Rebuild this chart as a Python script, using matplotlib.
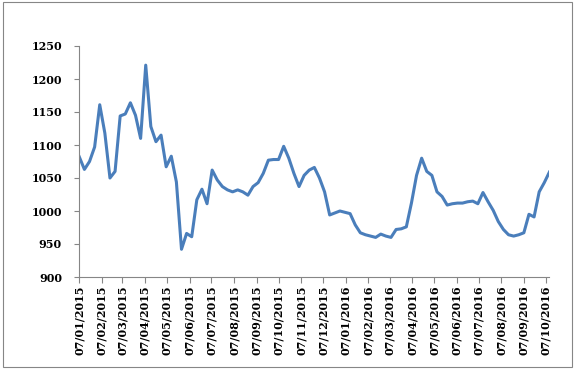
import matplotlib
matplotlib.use("Agg")
import matplotlib.pyplot as plt
import matplotlib.dates as mdates
from matplotlib.patches import Rectangle
import pandas as pd

start_date = "2015-01-07"
values = [1082, 1063, 1075, 1097, 1161, 1118, 1050, 1060, 1144, 1147, 1164, 1145, 1110, 1221, 1128,
          1105, 1115, 1067, 1083, 1044, 942, 966, 961, 1017, 1033, 1011, 1062, 1047, 1037, 1032,
          1029, 1032, 1029, 1024, 1037, 1043, 1057, 1077, 1078, 1078, 1098, 1080, 1057, 1037,
          1054, 1062, 1066, 1050, 1029, 994, 997, 1000, 998, 996, 979, 967, 964, 962, 960,
          965, 962, 960, 972, 973, 976, 1012, 1054, 1080, 1060, 1054, 1029, 1022, 1009,
          1011, 1012, 1012, 1014, 1015, 1011, 1028, 1014, 1001, 984, 972, 964, 962, 964, 967,
          995, 991, 1029, 1043, 1059]
dates = pd.date_range(start_date, periods=len(values), freq="7D")
y_ticks = [900, 950, 1000, 1050, 1100, 1150, 1200, 1250]

W, H = 574, 376
fig = plt.figure(figsize=(W / 100, H / 100), dpi=100)
ax = fig.add_axes([79.3 / W, 1 - 277 / H, (549.4 - 79.3) / W, (277 - 46) / H])

ax.plot(dates, values, color="#4A7EBB", linewidth=2.2, solid_joinstyle="round")

ax.set_xlim(dates[0], dates[-1])
ax.set_ylim(900, 1250)
ax.set_yticks(y_ticks)
ax.xaxis.set_major_locator(mdates.MonthLocator(bymonthday=7))
ax.xaxis.set_major_formatter(mdates.DateFormatter("%d/%m/%Y"))

font = dict(family="DejaVu Serif", weight="bold", size=8)
for lab in ax.get_yticklabels():
    lab.set_fontproperties(matplotlib.font_manager.FontProperties(**font))
for lab in ax.get_xticklabels():
    lab.set_fontproperties(matplotlib.font_manager.FontProperties(**font))
    lab.set_rotation(90)

for s in ["top", "right"]:
    ax.spines[s].set_visible(False)
for s in ["left", "bottom"]:
    ax.spines[s].set_color("#868686")
    ax.spines[s].set_linewidth(0.8)
ax.tick_params(axis="y", length=3.5, width=0.8, color="#868686", pad=9)
ax.tick_params(axis="x", length=4, width=0.8, color="#868686", pad=2)

fig.patches.append(Rectangle((2.7 / W, 1 - 366.5 / H), (571.7 - 2.7) / W, (366.5 - 1.7) / H,
                             transform=fig.transFigure, fill=False, edgecolor="#868686",
                             linewidth=0.8))

fig.savefig("out.png", dpi=100)
